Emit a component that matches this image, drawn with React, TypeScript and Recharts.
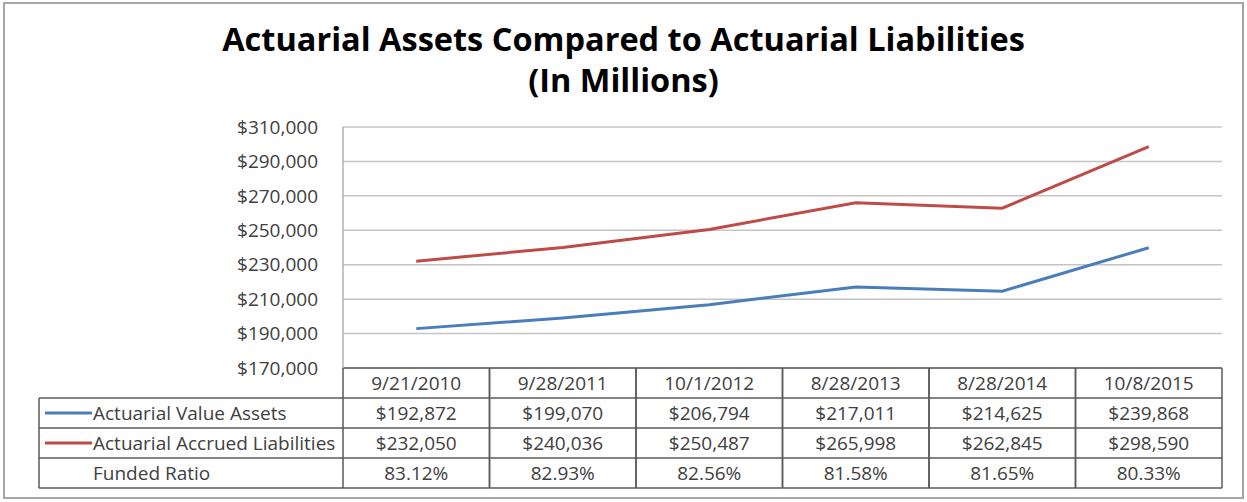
// Actuarial assets vs liabilities — line chart with an Excel-style data table under the plot
import { LineChart, Line, XAxis, YAxis, CartesianGrid } from 'recharts'

const dates = ['9/21/2010', '9/28/2011', '10/1/2012', '8/28/2013', '8/28/2014', '10/8/2015']
const assets = [192872, 199070, 206794, 217011, 214625, 239868]
const liabilities = [232050, 240036, 250487, 265998, 262845, 298590]
const fundedRatio = [83.12, 82.93, 82.56, 81.58, 81.65, 80.33]
const yTicks = [170000, 190000, 210000, 230000, 250000, 270000, 290000, 310000]

const W = 1247
const H = 502
const PLOT_LEFT = 343
const PLOT_RIGHT = 1222
const PLOT_TOP = 127
const PLOT_BOTTOM = 368
const TABLE_H = 125
const COL_W = (PLOT_RIGHT - PLOT_LEFT) / dates.length
const ROW_H = 30
const LABEL_LEFT = 39

const BLUE = '#4a7ebb'
const RED = '#be4b48'
const TEXT = '#404040'
const BORDER = '#5a5a5a'
const FONT = "'Open Sans', Lato, sans-serif"
const FS = 19

const data = dates.map((d, i) => ({
  date: d,
  assets: assets[i],
  liabilities: liabilities[i],
  ratio: fundedRatio[i],
}))

const money = (v: number) => '$' + v.toLocaleString('en-US')

const rowLabels = [
  { label: 'Actuarial Value Assets', color: BLUE },
  { label: 'Actuarial Accrued Liabilities', color: RED },
  { label: 'Funded Ratio', color: null as string | null },
]

// one table column per category tick; first tick also draws the label column
function TableTick(props: any) {
  const { x, y, payload } = props
  const i = dates.indexOf(payload.value)
  const left = x - COL_W / 2
  const right = x + COL_W / 2
  const cells = [dates[i], money(assets[i]), money(liabilities[i]), fundedRatio[i].toFixed(2) + '%']
  const textProps = { fill: TEXT, fontSize: FS, fontFamily: FONT, textAnchor: 'middle' as const }

  return (
    <g>
      {cells.map((c, r) => (
        <text key={r} x={x} y={y + r * ROW_H + ROW_H / 2 + 7} {...textProps}>
          {c}
        </text>
      ))}
      {[1, 2, 3, 4].map(r => (
        <line key={r} x1={left} x2={right} y1={y + r * ROW_H} y2={y + r * ROW_H} stroke={BORDER} strokeWidth={1.5} />
      ))}
      <line x1={left} x2={left} y1={y} y2={y + 4 * ROW_H} stroke={BORDER} strokeWidth={1.5} />
      <line x1={right} x2={right} y1={y} y2={y + 4 * ROW_H} stroke={BORDER} strokeWidth={1.5} />

      {i === 0 && (
        <g>
          <line x1={LABEL_LEFT} x2={LABEL_LEFT} y1={y + ROW_H} y2={y + 4 * ROW_H} stroke={BORDER} strokeWidth={1.5} />
          {[1, 2, 3, 4].map(r => (
            <line key={r} x1={LABEL_LEFT} x2={left} y1={y + r * ROW_H} y2={y + r * ROW_H} stroke={BORDER} strokeWidth={1.5} />
          ))}
          {rowLabels.map((rl, r) => {
            const cy = y + (r + 1) * ROW_H + ROW_H / 2
            return (
              <g key={r}>
                {rl.color && <line x1={45} x2={92} y1={cy} y2={cy} stroke={rl.color} strokeWidth={3} />}
                <text x={93} y={cy + 7} fill={TEXT} fontSize={FS} fontFamily={FONT}>
                  {rl.label}
                </text>
              </g>
            )
          })}
        </g>
      )}
    </g>
  )
}

export default function App() {
  return (
    <div style={{ position: 'absolute', left: 0, top: 0, width: W, height: H, background: '#fff' }}>
      <div
        style={{
          position: 'absolute',
          left: 3,
          top: 2,
          width: 1241,
          height: 497,
          border: '2px solid #a6a6a6',
          boxSizing: 'border-box',
        }}
      />
      <div
        style={{
          position: 'absolute',
          left: 0,
          top: 18,
          width: W,
          textAlign: 'center',
          fontFamily: FONT,
          fontWeight: 700,
          fontSize: 32.5,
          lineHeight: '41px',
          color: '#000',
        }}
      >
        Actuarial Assets Compared to Actuarial Liabilities
        <br />
        (In Millions)
      </div>
      <div style={{ position: 'absolute', left: 0, top: 0 }}>
        <LineChart
          width={W}
          height={H}
          data={data}
          margin={{ top: PLOT_TOP, right: W - PLOT_RIGHT, bottom: H - PLOT_BOTTOM - TABLE_H, left: PLOT_LEFT - 100 }}
        >
          <CartesianGrid stroke="#c4c4c4" strokeWidth={1.5} vertical={false} />
          <XAxis
            dataKey="date"
            scale="band"
            interval={0}
            height={TABLE_H}
            tick={<TableTick />}
            tickLine={false}
            tickSize={0}
            tickMargin={0}
            axisLine={{ stroke: BORDER, strokeWidth: 1.5 }}
          />
          <YAxis
            width={100}
            domain={[170000, 310000]}
            ticks={yTicks}
            tickFormatter={money}
            tick={{ fill: TEXT, fontSize: FS, fontFamily: FONT }}
            tickLine={false}
            tickSize={0}
            tickMargin={25}
            axisLine={{ stroke: '#b0b0b0', strokeWidth: 1.5 }}
            allowDataOverflow
          />
          <Line
            dataKey="assets"
            stroke={BLUE}
            strokeWidth={3}
            dot={false}
            isAnimationActive={false}
          />
          <Line
            dataKey="liabilities"
            stroke={RED}
            strokeWidth={3}
            dot={false}
            isAnimationActive={false}
          />
        </LineChart>
      </div>
    </div>
  )
}
